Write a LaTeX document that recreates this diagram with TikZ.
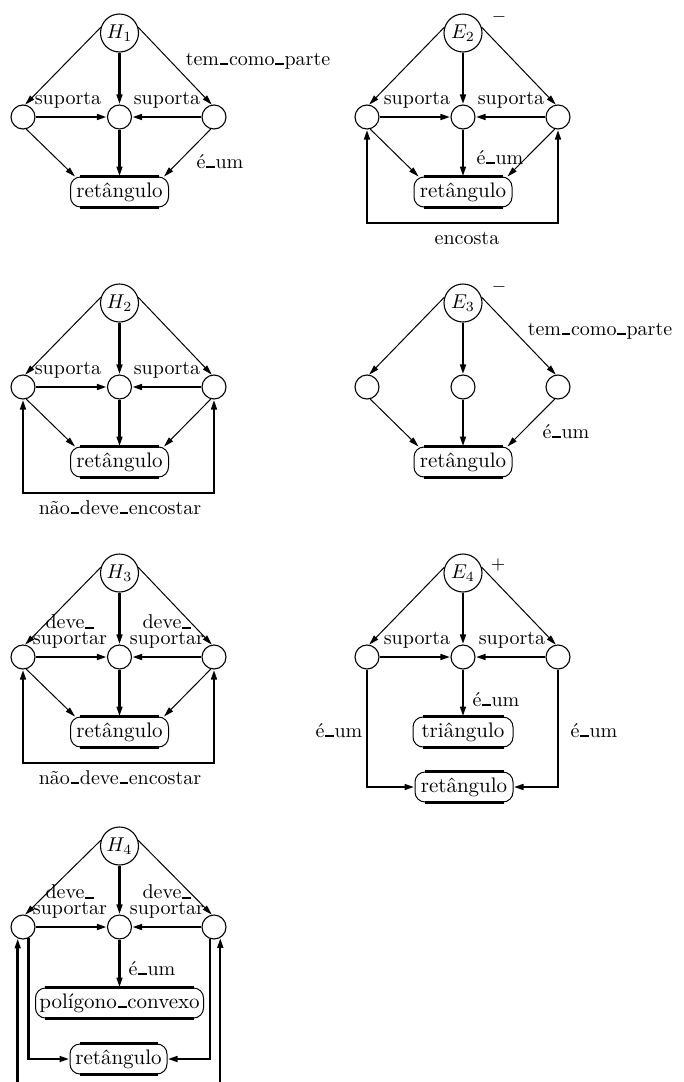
\documentclass[tikz,border=0pt]{standalone}
\usepackage{fontspec}
\usetikzlibrary{arrows.meta}

% short, heavy underscore sitting on the baseline
\newcommand\usc{\kern.04em\rule{.42em}{.09em}\kern.04em}

\tikzset{
  hub/.style={circle, draw, line width=0.55pt, minimum size=19pt, inner sep=0pt},
  part/.style={circle, draw, line width=0.55pt, minimum size=12pt, inner sep=0pt},
  ovalrim/.style={draw, line width=1.5pt, -},
  oval/.style={draw, rectangle, rounded corners=5pt, line width=0.5pt,
    minimum height=15pt, inner xsep=1pt, inner ysep=0pt,
    font=\fontsize{10.5}{12}\selectfont,
    append after command={
      ([xshift=5pt]\tikzlastnode.north west) edge[ovalrim] ([xshift=-5pt]\tikzlastnode.north east)
      ([xshift=5pt]\tikzlastnode.south west) edge[ovalrim] ([xshift=-5pt]\tikzlastnode.south east)}},
  tip/.style={-{Triangle[length=5pt,width=2.8pt]}},
  fine/.style={tip, line width=0.5pt},
  bold/.style={tip, line width=1.2pt},
  ring/.style={{Triangle[length=5pt,width=2.8pt]}-{Triangle[length=5pt,width=2.8pt]}, line width=1.2pt},
  lbl/.style={anchor=base, inner sep=0pt},
  twoline/.style={inner sep=0pt, align=center, anchor=south, font=\fontsize{10}{8}\selectfont},
  sign/.style={inner sep=0pt, font=\fontsize{9}{10}\selectfont},
}

\begin{document}
\begin{tikzpicture}[x=0.5pt,y=-0.5pt]
\clip (0,0) rectangle (684,1082);

% ---------- H1 ----------
\begin{scope}
\node[hub] (h1) at (119.5,33) {$H_1$};
\node[part] (h1l) at (23,117) {};
\node[part] (h1m) at (119.5,117) {};
\node[part] (h1r) at (214,117) {};
\node[oval, minimum width=49pt] (h1b) at (119.5,192) {retângulo};
\draw[fine] (h1.163) -- (h1l.80);
\draw[fine] (h1.17) -- (h1r.100);
\draw[bold] (h1) -- (h1m);
\draw[bold] (h1l) -- (h1m);
\draw[bold] (h1r) -- (h1m);
\draw[bold] (h1m) -- (h1b);
\draw[fine] (h1l.-75) -- ([xshift=2.5pt]h1b.north west);
\draw[fine] (h1r.-105) -- ([xshift=-2.5pt]h1b.north east);
\node[lbl] (h1s1) at (68,104) {suporta};
\node[lbl] (h1s2) at (167,104) {suporta};
\node[lbl] (h1t) at (258,65) {tem\usc como\usc parte};
\node[lbl] (h1e) at (220,168) {é\usc um};
\end{scope}

% ---------- E2 ----------
\begin{scope}[shift={(344,0)}]
\node[hub] (e2) at (119,33) {$E_2$};
\node[sign] (e2x) at (155,17) {$-$};
\node[part] (e2l) at (23,117) {};
\node[part] (e2m) at (119,117) {};
\node[part] (e2r) at (214,117) {};
\node[oval, minimum width=49pt] (e2b) at (119,192) {retângulo};
\coordinate (e2y) at (0,223);
\draw[fine] (e2.163) -- (e2l.80);
\draw[fine] (e2.17) -- (e2r.100);
\draw[bold] (e2) -- (e2m);
\draw[bold] (e2l) -- (e2m);
\draw[bold] (e2r) -- (e2m);
\draw[bold] (e2m) -- (e2b);
\draw[fine] (e2l.-75) -- ([xshift=2.5pt]e2b.north west);
\draw[fine] (e2r.-105) -- ([xshift=-2.5pt]e2b.north east);
\draw[ring] (e2l.south) -- (e2l.south |- e2y) -| (e2r.south);
\node[lbl] (e2s1) at (73,104) {suporta};
\node[lbl] (e2s2) at (167,104) {suporta};
\node[lbl] (e2e) at (156,164) {é\usc um};
\node[lbl] (e2n) at (123,244) {encosta};
\end{scope}

% ---------- H2 ----------
\begin{scope}[shift={(0,270)}]
\node[hub] (h2) at (119.5,33) {$H_2$};
\node[part] (h2l) at (23,117) {};
\node[part] (h2m) at (119.5,117) {};
\node[part] (h2r) at (214,117) {};
\node[oval, minimum width=49pt] (h2b) at (119.5,192) {retângulo};
\coordinate (h2y) at (0,223);
\draw[fine] (h2.163) -- (h2l.80);
\draw[fine] (h2.17) -- (h2r.100);
\draw[bold] (h2) -- (h2m);
\draw[bold] (h2l) -- (h2m);
\draw[bold] (h2r) -- (h2m);
\draw[bold] (h2m) -- (h2b);
\draw[fine] (h2l.-75) -- ([xshift=2.5pt]h2b.north west);
\draw[fine] (h2r.-105) -- ([xshift=-2.5pt]h2b.north east);
\draw[ring] (h2l.south) -- (h2l.south |- h2y) -| (h2r.south);
\node[lbl] (h2s1) at (68,104) {suporta};
\node[lbl] (h2s2) at (167,104) {suporta};
\node[lbl] (h2n) at (120,244) {não\usc deve\usc encostar};
\end{scope}

% ---------- E3 ----------
\begin{scope}[shift={(344,270)}]
\node[hub] (e3) at (119,33) {$E_3$};
\node[sign] (e3x) at (155,17) {$-$};
\node[part] (e3l) at (23,117) {};
\node[part] (e3m) at (119,117) {};
\node[part] (e3r) at (214,117) {};
\node[oval, minimum width=49pt] (e3b) at (119,192) {retângulo};
\draw[fine] (e3.163) -- (e3l.80);
\draw[fine] (e3.17) -- (e3r.100);
\draw[bold] (e3) -- (e3m);
\draw[bold] (e3m) -- (e3b);
\draw[fine] (e3l.-75) -- ([xshift=2.5pt]e3b.north west);
\draw[fine] (e3r.-105) -- ([xshift=-2.5pt]e3b.north east);
\node[lbl] (e3t) at (256,65) {tem\usc como\usc parte};
\node[lbl] (e3e) at (222,168) {é\usc um};
\end{scope}

% ---------- H3 ----------
\begin{scope}[shift={(0,540)}]
\node[hub] (h3) at (119.5,33) {$H_3$};
\node[part] (h3l) at (23,117) {};
\node[part] (h3m) at (119.5,117) {};
\node[part] (h3r) at (214,117) {};
\node[oval, minimum width=49pt] (h3b) at (119.5,192) {retângulo};
\coordinate (h3y) at (0,223);
\draw[fine] (h3.163) -- (h3l.80);
\draw[fine] (h3.17) -- (h3r.100);
\draw[bold] (h3) -- (h3m);
\draw[bold] (h3l) -- (h3m);
\draw[bold] (h3r) -- (h3m);
\draw[bold] (h3m) -- (h3b);
\draw[fine] (h3l.-75) -- ([xshift=2.5pt]h3b.north west);
\draw[fine] (h3r.-105) -- ([xshift=-2.5pt]h3b.north east);
\draw[ring] (h3l.south) -- (h3l.south |- h3y) -| (h3r.south);
\node[twoline] (h3d1) at (70,109) {deve\usc\\suportar};
\node[twoline] (h3d2) at (167,109) {deve\usc\\suportar};
\node[lbl] (h3n) at (120,244) {não\usc deve\usc encostar};
\end{scope}

% ---------- E4 ----------
\begin{scope}[shift={(344,540)}]
\node[hub] (e4) at (119,33) {$E_4$};
\node[sign] (e4x) at (154,25) {$+$};
\node[part] (e4l) at (23,117) {};
\node[part] (e4m) at (119,117) {};
\node[part] (e4r) at (214,117) {};
\node[oval, minimum width=50pt] (e4t) at (119,192) {triângulo};
\node[oval, minimum width=49pt] (e4b) at (120,247) {retângulo};
\draw[fine] (e4.163) -- (e4l.80);
\draw[fine] (e4.17) -- (e4r.100);
\draw[bold] (e4) -- (e4m);
\draw[bold] (e4l) -- (e4m);
\draw[bold] (e4r) -- (e4m);
\draw[bold] (e4m) -- (e4t);
\draw[bold] (e4l.south) |- (e4b.west);
\draw[bold] (e4r.south) |- (e4b.east);
\node[lbl] (e4s1) at (73,104) {suporta};
\node[lbl] (e4s2) at (168,104) {suporta};
\node[lbl] (e4e1) at (152,166) {é\usc um};
\node[lbl] (e4e2) at (-5,197) {é\usc um};
\node[lbl] (e4e3) at (250,197) {é\usc um};
\end{scope}

% ---------- H4 ----------
\begin{scope}[shift={(0,810)}]
\node[hub] (h4) at (119.5,36) {$H_4$};
\node[part] (h4l) at (23,117) {};
\node[part] (h4m) at (119.5,117) {};
\node[part] (h4r) at (214,117) {};
\node[oval, minimum width=84pt] (h4p) at (119.5,193) {polígono\usc convexo};
\node[oval, minimum width=48.5pt] (h4b) at (118.5,249) {retângulo};
\coordinate (h4y) at (0,300);
\draw[fine] (h4.163) -- (h4l.80);
\draw[fine] (h4.17) -- (h4r.100);
\draw[bold] (h4) -- (h4m);
\draw[bold] (h4l) -- (h4m);
\draw[bold] (h4r) -- (h4m);
\draw[bold] (h4m) -- (h4p);
\draw[bold] (h4l.-65) |- (h4b.west);
\draw[bold] (h4r.-110) |- (h4b.east);
\draw[bold] (h4l.-115 |- h4y) -- (h4l.-115);
\draw[bold] (h4r.-60 |- h4y) -- (h4r.-60);
\node[twoline] (h4d1) at (70,109) {deve\usc\\suportar};
\node[twoline] (h4d2) at (167,109) {deve\usc\\suportar};
\node[lbl] (h4e) at (152,165) {é\usc um};
\end{scope}
\end{tikzpicture}
\end{document}
